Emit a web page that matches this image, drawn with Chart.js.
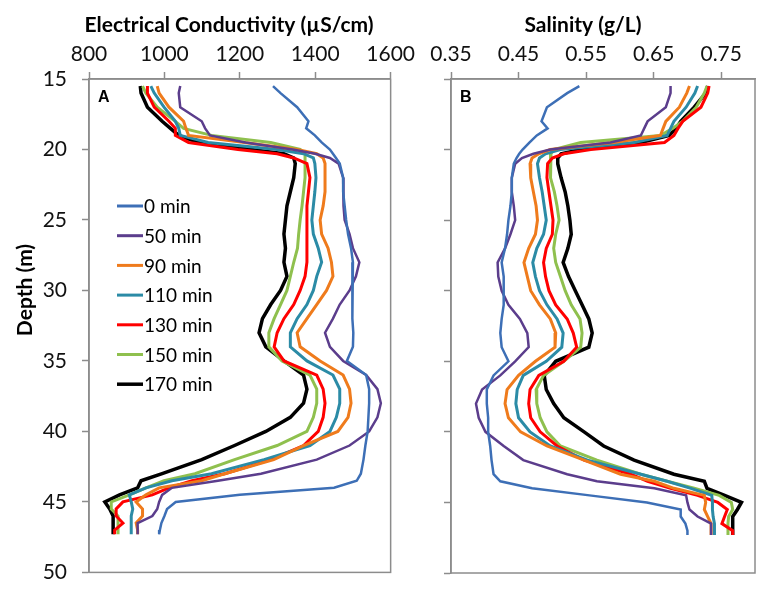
<!DOCTYPE html>
<html>
<head>
<meta charset="utf-8">
<script src="https://cdn.jsdelivr.net/npm/chart.js@4.4.1/dist/chart.umd.min.js"></script>
<style>
  html, body { margin: 0; padding: 0; background: #fff; }
  #wrap { position: relative; width: 765px; height: 600px; }
  canvas { position: absolute; top: 0; }
  #ecChart { left: 0; }
  #salChart { left: 420px; }
</style>
</head>
<body>
<div id="wrap">
  <canvas id="ecChart" width="420" height="600"></canvas>
  <canvas id="salChart" width="345" height="600"></canvas>
</div>
<script>
// depth (m) where each profile was read
const depth = [15.5, 16, 17, 18, 18.5, 19, 19.5, 20, 20.3, 20.6, 21,
    22, 23, 24, 25, 26, 27, 28, 29, 30, 31, 32, 33, 34, 35, 36, 37, 38, 39, 40, 41, 42, 43,
    43.5, 44, 44.5, 45, 45.5, 46, 46.5, 47, 47.3];

const labels = ['0 min', '50 min', '90 min', '110 min', '130 min', '150 min', '170 min'];
const colors = ['#3d6fb6', '#5b3d8c', '#ef7b1c', '#2b8ba6', '#ff0000', '#8fc04e', '#000000'];
const widths = [2.5, 2.5, 3, 3, 3, 3, 3.5];

// electrical conductivity (uS/cm)
const ec0 = [1288, 1308, 1352, 1382, 1376, 1399, 1417, 1439, 1447, 1455, 1465,
    1474, 1474, 1478, 1482, 1487, 1495, 1500, 1498, 1498, 1498, 1500, 1501, 1500, 1484, 1535, 1543, 1543, 1541, 1539, 1533, 1528, 1521,
    1510, 1450, 1200, 1030, 1007, 1000, 992, 988, 986];
const ec50 = [1042, 1038, 1042, 1099, 1108, 1121, 1215, 1340, 1400, 1439, 1462,
    1474, 1476, 1474, 1478, 1491, 1500, 1517, 1508, 1491, 1465, 1447, 1426, 1439, 1474, 1535, 1565, 1574, 1565, 1543, 1491, 1404, 1256,
    1142, 1020, 994, 986, 981, 968, 929, 929, 929];
const ec90 = [981, 986, 1012, 1051, 1057, 1064, 1212, 1352, 1404, 1421, 1426,
    1426, 1426, 1421, 1413, 1417, 1434, 1443, 1447, 1430, 1404, 1378, 1352, 1360, 1413, 1474, 1491, 1495, 1487, 1460, 1369, 1290, 1160,
    1099, 986, 951, 925, 942, 942, 925, 929, 929];
const ec110 = [964, 973, 999, 1029, 1038, 1042, 1116, 1299, 1369, 1395, 1399,
    1402, 1399, 1395, 1391, 1395, 1408, 1417, 1404, 1395, 1378, 1352, 1334, 1334, 1378, 1447, 1465, 1465, 1456, 1439, 1386, 1264, 1125,
    1020, 951, 907, 912, 916, 912, 912, 912, 912];
const ec130 = [955, 955, 973, 1012, 1029, 1029, 1064, 1195, 1299, 1343, 1378,
    1386, 1382, 1378, 1378, 1378, 1378, 1378, 1373, 1360, 1343, 1317, 1299, 1291, 1317, 1404, 1421, 1426, 1421, 1408, 1369, 1282, 1160,
    1073, 1012, 968, 890, 872, 872, 890, 868, 868];
const ec150 = [942, 951, 981, 1029, 1051, 1125, 1282, 1360, 1373, 1373, 1373,
    1373, 1369, 1365, 1360, 1356, 1353, 1343, 1334, 1325, 1308, 1291, 1277, 1277, 1312, 1386, 1404, 1404, 1395, 1378, 1299, 1186, 1081,
    999, 951, 907, 859, 859, 877, 877, 877, 877];
const ec170 = [936, 938, 955, 994, 1016, 1038, 1090, 1230, 1317, 1343, 1347,
    1343, 1334, 1325, 1321, 1317, 1321, 1317, 1325, 1308, 1282, 1260, 1251, 1269, 1317, 1369, 1378, 1369, 1334, 1269, 1186, 1099, 994,
    938, 929, 881, 842, 855, 864, 864, 864, 864];

// salinity (g/L)
const sal0 = [0.540, 0.522, 0.492, 0.484, 0.493, 0.477, 0.466, 0.456, 0.451, 0.447, 0.443,
    0.440, 0.440, 0.438, 0.435, 0.433, 0.430, 0.425, 0.428, 0.428, 0.428, 0.425, 0.423, 0.425, 0.435, 0.413, 0.403, 0.403, 0.405, 0.405, 0.408, 0.410, 0.413,
    0.423, 0.470, 0.555, 0.640, 0.690, 0.690, 0.697, 0.700, 0.700];
const sal50 = [0.675, 0.675, 0.668, 0.641, 0.636, 0.631, 0.586, 0.497, 0.472, 0.455, 0.445,
    0.440, 0.440, 0.443, 0.445, 0.438, 0.430, 0.419, 0.420, 0.425, 0.435, 0.452, 0.463, 0.465, 0.445, 0.423, 0.396, 0.387, 0.391, 0.401, 0.428, 0.457, 0.522,
    0.566, 0.651, 0.698, 0.700, 0.703, 0.715, 0.735, 0.735, 0.735];
const sal90 = [0.703, 0.699, 0.688, 0.668, 0.664, 0.660, 0.591, 0.497, 0.480, 0.470, 0.467,
    0.468, 0.472, 0.476, 0.478, 0.475, 0.465, 0.458, 0.463, 0.468, 0.481, 0.497, 0.505, 0.504, 0.475, 0.450, 0.433, 0.430, 0.435, 0.453, 0.492, 0.547, 0.601,
    0.651, 0.680, 0.725, 0.727, 0.725, 0.730, 0.735, 0.735, 0.735];
const sal110 = [0.715, 0.711, 0.698, 0.680, 0.675, 0.670, 0.621, 0.512, 0.490, 0.481, 0.478,
    0.481, 0.485, 0.488, 0.491, 0.487, 0.477, 0.471, 0.475, 0.481, 0.492, 0.507, 0.516, 0.514, 0.491, 0.457, 0.448, 0.446, 0.450, 0.467, 0.497, 0.552, 0.631,
    0.670, 0.705, 0.736, 0.737, 0.737, 0.738, 0.740, 0.740, 0.740];
const sal130 = [0.732, 0.730, 0.720, 0.693, 0.686, 0.680, 0.666, 0.557, 0.517, 0.500, 0.493,
    0.492, 0.495, 0.498, 0.501, 0.500, 0.491, 0.487, 0.490, 0.495, 0.505, 0.522, 0.531, 0.536, 0.517, 0.480, 0.467, 0.465, 0.468, 0.482, 0.507, 0.547, 0.616,
    0.641, 0.675, 0.715, 0.745, 0.759, 0.755, 0.751, 0.767, 0.767];
const sal150 = [0.729, 0.725, 0.713, 0.693, 0.678, 0.660, 0.542, 0.502, 0.498, 0.497, 0.497,
    0.498, 0.503, 0.507, 0.510, 0.505, 0.502, 0.505, 0.512, 0.519, 0.528, 0.541, 0.544, 0.542, 0.517, 0.487, 0.476, 0.477, 0.482, 0.492, 0.512, 0.566, 0.631,
    0.670, 0.710, 0.747, 0.765, 0.767, 0.761, 0.760, 0.760, 0.760];
const sal170 = [0.730, 0.727, 0.710, 0.690, 0.683, 0.673, 0.631, 0.542, 0.513, 0.508, 0.508,
    0.513, 0.519, 0.523, 0.526, 0.528, 0.523, 0.516, 0.524, 0.534, 0.544, 0.554, 0.559, 0.554, 0.505, 0.488, 0.491, 0.502, 0.517, 0.547, 0.576, 0.621, 0.680,
    0.725, 0.729, 0.755, 0.780, 0.774, 0.767, 0.767, 0.767, 0.767];

const ecSeries = [ec0, ec50, ec90, ec110, ec130, ec150, ec170];
const salSeries = [sal0, sal50, sal90, sal110, sal130, sal150, sal170];

const ecTicks = [800, 1000, 1200, 1400, 1600];
const salTicks = [0.35, 0.45, 0.55, 0.65, 0.75];
const depthTicks = [15, 20, 25, 30, 35, 40, 45, 50];

Chart.defaults.font.family = 'Lato';
Chart.defaults.color = '#111';

const axisGrey = '#8c8c8c';

// box, panel letter, titles and (for panel A) the legend
const panelDecor = {
    id: 'panelDecor',
    afterDraw(chart, args, opts) {
        const ctx = chart.ctx, a = chart.chartArea;
        ctx.save();
        ctx.strokeStyle = axisGrey;
        ctx.lineWidth = 1.5;
        ctx.strokeRect(a.left, a.top, a.right - a.left, a.bottom - a.top);

        ctx.fillStyle = '#000';
        ctx.font = 'bold 16px "Liberation Sans"';
        ctx.textAlign = 'left';
        ctx.textBaseline = 'alphabetic';
        ctx.fillText(opts.letter, a.left + 9, a.top + 23);

        ctx.font = 'bold 21px Lato';
        ctx.textAlign = 'center';
        ctx.fillText(opts.xTitle, opts.xTitleX, 32);

        if (opts.yTitle) {
            ctx.save();
            ctx.translate(25, 290);
            ctx.rotate(-Math.PI / 2);
            ctx.textBaseline = 'middle';
            ctx.fillText(opts.yTitle, 0, 0);
            ctx.restore();
        }

        if (opts.legend) {
            ctx.font = '19px Lato';
            ctx.textAlign = 'left';
            ctx.textBaseline = 'middle';
            chart.data.datasets.forEach((ds, i) => {
                const y = 206 + i * 29.7;
                ctx.strokeStyle = ds.borderColor;
                ctx.lineWidth = ds.label === '170 min' ? 3.5 : 3;
                ctx.beginPath();
                ctx.moveTo(117, y);
                ctx.lineTo(143, y);
                ctx.stroke();
                ctx.fillStyle = '#000';
                ctx.fillText(ds.label, 144, y + 1);
            });
        }
        ctx.restore();
    }
};

function makeDatasets(series) {
    return series.map((vals, i) => ({
        label: labels[i],
        data: depth.map((d, j) => ({ x: vals[j], y: d })),
        showLine: true,
        borderColor: colors[i],
        backgroundColor: colors[i],
        borderWidth: widths[i],
        pointRadius: 0,
        tension: 0
    }));
}

function setTicks(list) {
    return function(scale) {
        scale.ticks = list.map(v => ({ value: v }));
    };
}

function xScale(min, max, list, decimals) {
    return {
        type: 'linear',
        position: 'top',
        min: min,
        max: max,
        afterBuildTicks: setTicks(list),
        afterFit(scale) { scale.height = 79; },
        ticks: {
            font: { size: 21 },
            color: '#111',
            padding: 5,
            maxRotation: 0,
            callback: v => Number(v).toFixed(decimals)
        },
        grid: { drawOnChartArea: false, tickLength: 7, color: axisGrey, tickWidth: 1.5 },
        border: { color: axisGrey, width: 1.5 }
    };
}

function yScale(showLabels, width) {
    return {
        type: 'linear',
        reverse: true,
        min: 15,
        max: 50,
        afterBuildTicks: setTicks(depthTicks),
        afterFit(scale) { scale.width = width; },
        ticks: { display: showLabels, font: { size: 21 }, color: '#111', padding: 15 },
        grid: { drawOnChartArea: false, tickLength: 7, color: axisGrey, tickWidth: 1.5 },
        border: { color: axisGrey, width: 1.5 }
    };
}

// Panel A: electrical conductivity
new Chart(document.getElementById('ecChart'), {
    type: 'scatter',
    data: { datasets: makeDatasets(ecSeries) },
    options: {
        responsive: false,
        animation: false,
        layout: { padding: { left: 0, right: 25, top: 0, bottom: 24 } },
        plugins: {
            legend: { display: false },
            tooltip: { enabled: false },
            panelDecor: {
                letter: 'A',
                xTitle: 'Electrical Conductivity (µS/cm)',
                xTitleX: 229,
                yTitle: 'Depth (m)',
                legend: true
            }
        },
        scales: {
            x: xScale(800, 1600, ecTicks, 0),
            y: yScale(true, 89)
        }
    },
    plugins: [panelDecor]
});

// Panel B: salinity
new Chart(document.getElementById('salChart'), {
    type: 'scatter',
    data: { datasets: makeDatasets(salSeries) },
    options: {
        responsive: false,
        animation: false,
        layout: { padding: { left: 0, right: 10, top: 0, bottom: 27 } },
        plugins: {
            legend: { display: false },
            tooltip: { enabled: false },
            panelDecor: {
                letter: 'B',
                xTitle: 'Salinity (g/L)',
                xTitleX: 163,
                legend: false
            }
        },
        scales: {
            x: xScale(0.35, 0.80, salTicks, 2),
            y: yScale(false, 31)
        }
    },
    plugins: [panelDecor]
});
</script>
</body>
</html>
